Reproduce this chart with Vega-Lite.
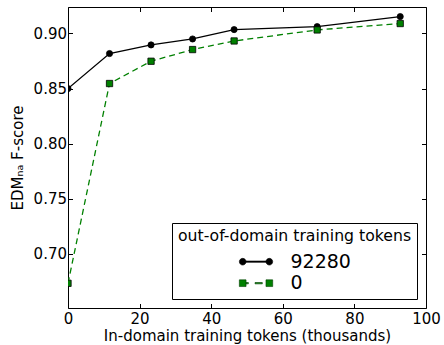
{
  "$schema": "https://vega.github.io/schema/vega-lite/v6.json",
  "autosize": "none",
  "width": 358,
  "height": 301,
  "padding": {"left": 68, "top": 7, "right": 18, "bottom": 37},
  "title": {
    "text": "Mixing i2b2 and CSID for 10CSK",
    "fontSize": 18,
    "font": "DejaVu Sans",
    "fontWeight": "normal",
    "color": "black",
    "anchor": "middle",
    "baseline": "alphabetic",
    "offset": 4
  },
  "data": {
    "values": [
      {"tokens": 0, "fscore": 0.850, "series": "92280"},
      {"tokens": 11.6, "fscore": 0.8818, "series": "92280"},
      {"tokens": 23.2, "fscore": 0.8896, "series": "92280"},
      {"tokens": 34.8, "fscore": 0.895, "series": "92280"},
      {"tokens": 46.4, "fscore": 0.9035, "series": "92280"},
      {"tokens": 69.6, "fscore": 0.9062, "series": "92280"},
      {"tokens": 92.8, "fscore": 0.9153, "series": "92280"},
      {"tokens": 0, "fscore": 0.6734, "series": "0"},
      {"tokens": 11.6, "fscore": 0.8546, "series": "0"},
      {"tokens": 23.2, "fscore": 0.8748, "series": "0"},
      {"tokens": 34.8, "fscore": 0.8854, "series": "0"},
      {"tokens": 46.4, "fscore": 0.8932, "series": "0"},
      {"tokens": 69.6, "fscore": 0.9032, "series": "0"},
      {"tokens": 92.8, "fscore": 0.909, "series": "0"}
    ]
  },
  "layer": [
    {
      "transform": [{"filter": "datum.series === '92280'"}],
      "mark": {"type": "line", "stroke": "black", "strokeWidth": 1.3, "clip": true},
      "encoding": {
        "x": {
          "field": "tokens", "type": "quantitative",
          "scale": {"domain": [0, 100], "nice": false, "zero": false},
          "axis": {"orient": "bottom", "values": [0, 20, 40, 60, 80, 100], "title": "In-domain training tokens (thousands)", "labelPadding": 8, "titlePadding": 2}
        },
        "y": {
          "field": "fscore", "type": "quantitative",
          "scale": {"domain": [0.651, 0.924], "nice": false, "zero": false},
          "axis": {"orient": "left", "values": [0.7, 0.75, 0.8, 0.85, 0.9], "format": ".2f", "title": "EDMₙₐ F-score", "labelPadding": 6, "titlePadding": 8}
        }
      }
    },
    {
      "transform": [{"filter": "datum.series === '92280'"}],
      "mark": {"type": "point", "shape": "circle", "filled": true, "fill": "black", "stroke": "black", "strokeWidth": 0.8, "opacity": 1, "size": 38, "clip": true},
      "encoding": {
        "x": {
          "field": "tokens", "type": "quantitative",
          "axis": {"orient": "top", "values": [0, 20, 40, 60, 80, 100], "labels": false, "title": null}
        },
        "y": {
          "field": "fscore", "type": "quantitative",
          "axis": {"orient": "right", "values": [0.7, 0.75, 0.8, 0.85, 0.9], "labels": false, "title": null}
        }
      }
    },
    {
      "transform": [{"filter": "datum.series === '0'"}],
      "mark": {"type": "line", "stroke": "#008000", "strokeWidth": 1.3, "strokeDash": [6, 4], "clip": true},
      "encoding": {
        "x": {"field": "tokens", "type": "quantitative", "axis": null},
        "y": {"field": "fscore", "type": "quantitative", "axis": null}
      }
    },
    {
      "transform": [{"filter": "datum.series === '0'"}],
      "mark": {"type": "point", "shape": "square", "filled": true, "fill": "#008000", "stroke": "black", "strokeWidth": 0.8, "opacity": 1, "size": 40, "clip": true},
      "encoding": {
        "x": {"field": "tokens", "type": "quantitative", "axis": null},
        "y": {"field": "fscore", "type": "quantitative", "axis": null}
      }
    },
    {
      "mark": {"type": "point", "filled": true, "size": 0, "opacity": 1, "clip": true},
      "encoding": {
        "x": {"field": "tokens", "type": "quantitative", "axis": null},
        "y": {"field": "fscore", "type": "quantitative", "axis": null},
        "shape": {
          "field": "series", "type": "nominal",
          "scale": {"domain": ["92280", "0"], "range": [
            "M-2.28,0A1,1,0,1,1,-0.28,0A1,1,0,1,1,-2.28,0ZM5.66,0A1,1,0,1,1,7.66,0A1,1,0,1,1,5.66,0ZM-1.28,-0.2H6.66V0.2H-1.28Z",
            "M-2.28,-1H-0.28V1H-2.28ZM5.66,-1H7.66V1H5.66ZM-0.28,-0.2H0.41V0.2H-0.28ZM2.39,-0.2H4.57V0.2H2.39Z"
          ]},
          "title": "out-of-domain training tokens"
        },
        "fill": {
          "field": "series", "type": "nominal",
          "scale": {"domain": ["92280", "0"], "range": ["black", "#008000"]},
          "title": "out-of-domain training tokens"
        },
        "stroke": {
          "field": "series", "type": "nominal",
          "scale": {"domain": ["92280", "0"], "range": ["black", "#003d00"]},
          "title": "out-of-domain training tokens"
        }
      }
    }
  ],
  "resolve": {"axis": {"x": "independent", "y": "independent"}},
  "config": {
    "font": "DejaVu Sans",
    "view": {"stroke": "black", "strokeWidth": 1},
    "axis": {
      "domain": false,
      "grid": false,
      "ticks": true,
      "tickSize": -4.5,
      "tickColor": "black",
      "tickWidth": 1,
      "labelFont": "DejaVu Sans",
      "labelFontSize": 15,
      "labelColor": "black",
      "labelFlush": false,
      "labelOverlap": false,
      "titleFont": "DejaVu Sans",
      "titleFontSize": 15,
      "titleFontWeight": "normal",
      "titleColor": "black"
    },
    "legend": {
      "orient": "bottom-right",
      "offset": 9,
      "padding": 5.5,
      "strokeColor": "black",
      "fillColor": "white",
      "titleFont": "DejaVu Sans",
      "titleFontSize": 15.7,
      "titleFontWeight": "normal",
      "titleColor": "black",
      "titleAnchor": "middle",
      "titleLimit": 400,
      "titlePadding": 8,
      "labelFont": "DejaVu Sans",
      "labelFontSize": 19,
      "labelColor": "black",
      "symbolSize": 45,
      "symbolOffset": 0,
      "labelOffset": 34,
      "rowPadding": 1.5,
      "symbolStrokeWidth": 0.6,
      "symbolOpacity": 1
    }
  }
}
